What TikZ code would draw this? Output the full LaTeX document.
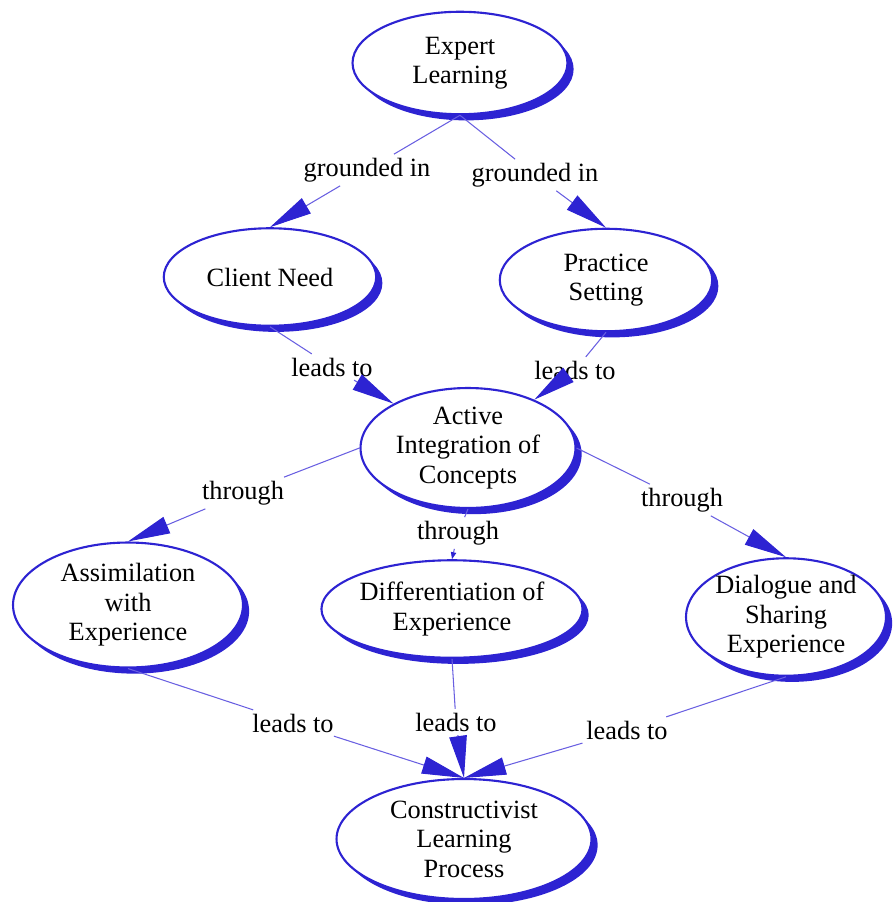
\documentclass[tikz,border=0pt]{standalone}
\usepackage{fontspec}
\setmainfont{Liberation Serif}
\usetikzlibrary{shapes.geometric,shadows,arrows.meta}
\definecolor{cmapblue}{RGB}{45,35,210}
\definecolor{linkblue}{RGB}{105,95,225}

\begin{document}
\begin{tikzpicture}[x=0.02cm, y=-0.02cm,
    concept/.style={ellipse, draw=cmapblue, line width=1.2pt, fill=white, align=center, inner sep=0pt,
        drop shadow={shadow xshift=3.5pt, shadow yshift=-3.5pt, fill=cmapblue, opacity=1},
        font=\fontsize{15}{16.8}\selectfont},
    phrase/.style={fill=white, inner sep=2pt, font=\fontsize{15}{16.8}\selectfont},
    link/.style={draw=linkblue, line width=0.6pt},
    linkto/.style={link, -{Triangle[length=24pt, width=10pt, color=cmapblue]}},
    smallto/.style={link, -{Triangle[length=4pt, width=3pt, color=cmapblue]}}]
    \useasboundingbox (0,0) rectangle (895,902);

    \node[concept, minimum width=4.3cm, minimum height=2.05cm] (el) at (460,63) {Expert\\Learning};
    \node[concept, minimum width=4.25cm, minimum height=1.95cm] (cn) at (270,277) {Client Need};
    \node[concept, minimum width=4.25cm, minimum height=2.05cm] (ps) at (606,280) {Practice\\Setting};
    \node[concept, minimum width=4.3cm, minimum height=2.4cm] (aic) at (468,448) {Active\\Integration of\\Concepts};
    \node[concept, minimum width=4.6cm, minimum height=2.5cm] (asm) at (128,605) {Assimilation\\with\\Experience};
    \node[concept, minimum width=4.9cm, minimum height=1.95cm] (dif) at (452,609) {Differentiation of\\Experience};
    \node[concept, minimum width=4.0cm, minimum height=2.35cm] (dsx) at (786,617) {Dialogue and\\Sharing\\Experience};
    \node[concept, minimum width=5.1cm, minimum height=2.4cm] (clp) at (464,839) {Constructivist\\Learning\\Process};

    \node[phrase] (g1) at (367,170) {grounded in};
    \node[phrase] (g2) at (535,175) {grounded in};
    \node[phrase] (l1) at (332,367) {leads to};
    \node[phrase] (l2) at (575,370) {leads to};
    \node[phrase] (t1) at (243,493) {through};
    \node[phrase] (t2) at (458,533) {through};
    \node[phrase] (t3) at (682,500) {through};
    \node[phrase] (l3) at (293,723) {leads to};
    \node[phrase] (l4) at (456,722) {leads to};
    \node[phrase] (l5) at (627,730) {leads to};

    \draw[link] (el.south) -- (g1);
    \draw[linkto] (g1) -- (cn.north);
    \draw[link] (el.south) -- (g2);
    \draw[linkto] (g2) -- (ps.north);
    \draw[link] (cn.south) -- (l1);
    \draw[linkto] (l1) -- (aic);
    \draw[link] (ps.south) -- (l2);
    \draw[linkto] (l2) -- (aic);
    \draw[link] (aic.west) -- (t1);
    \draw[linkto] (t1) -- (asm.north);
    \draw[link] (aic.south) -- (t2);
    \draw[smallto] (t2) -- (dif.north);
    \draw[link] (aic.east) -- (t3);
    \draw[linkto] (t3) -- (dsx.north);
    \draw[link] (asm.south) -- (l3);
    \draw[linkto] (l3) -- (clp.north);
    \draw[link] (dif.south) -- (l4);
    \draw[linkto] (l4) -- (clp.north);
    \draw[link] (dsx.south) -- (l5);
    \draw[linkto] (l5) -- (clp.north);
\end{tikzpicture}
\end{document}
